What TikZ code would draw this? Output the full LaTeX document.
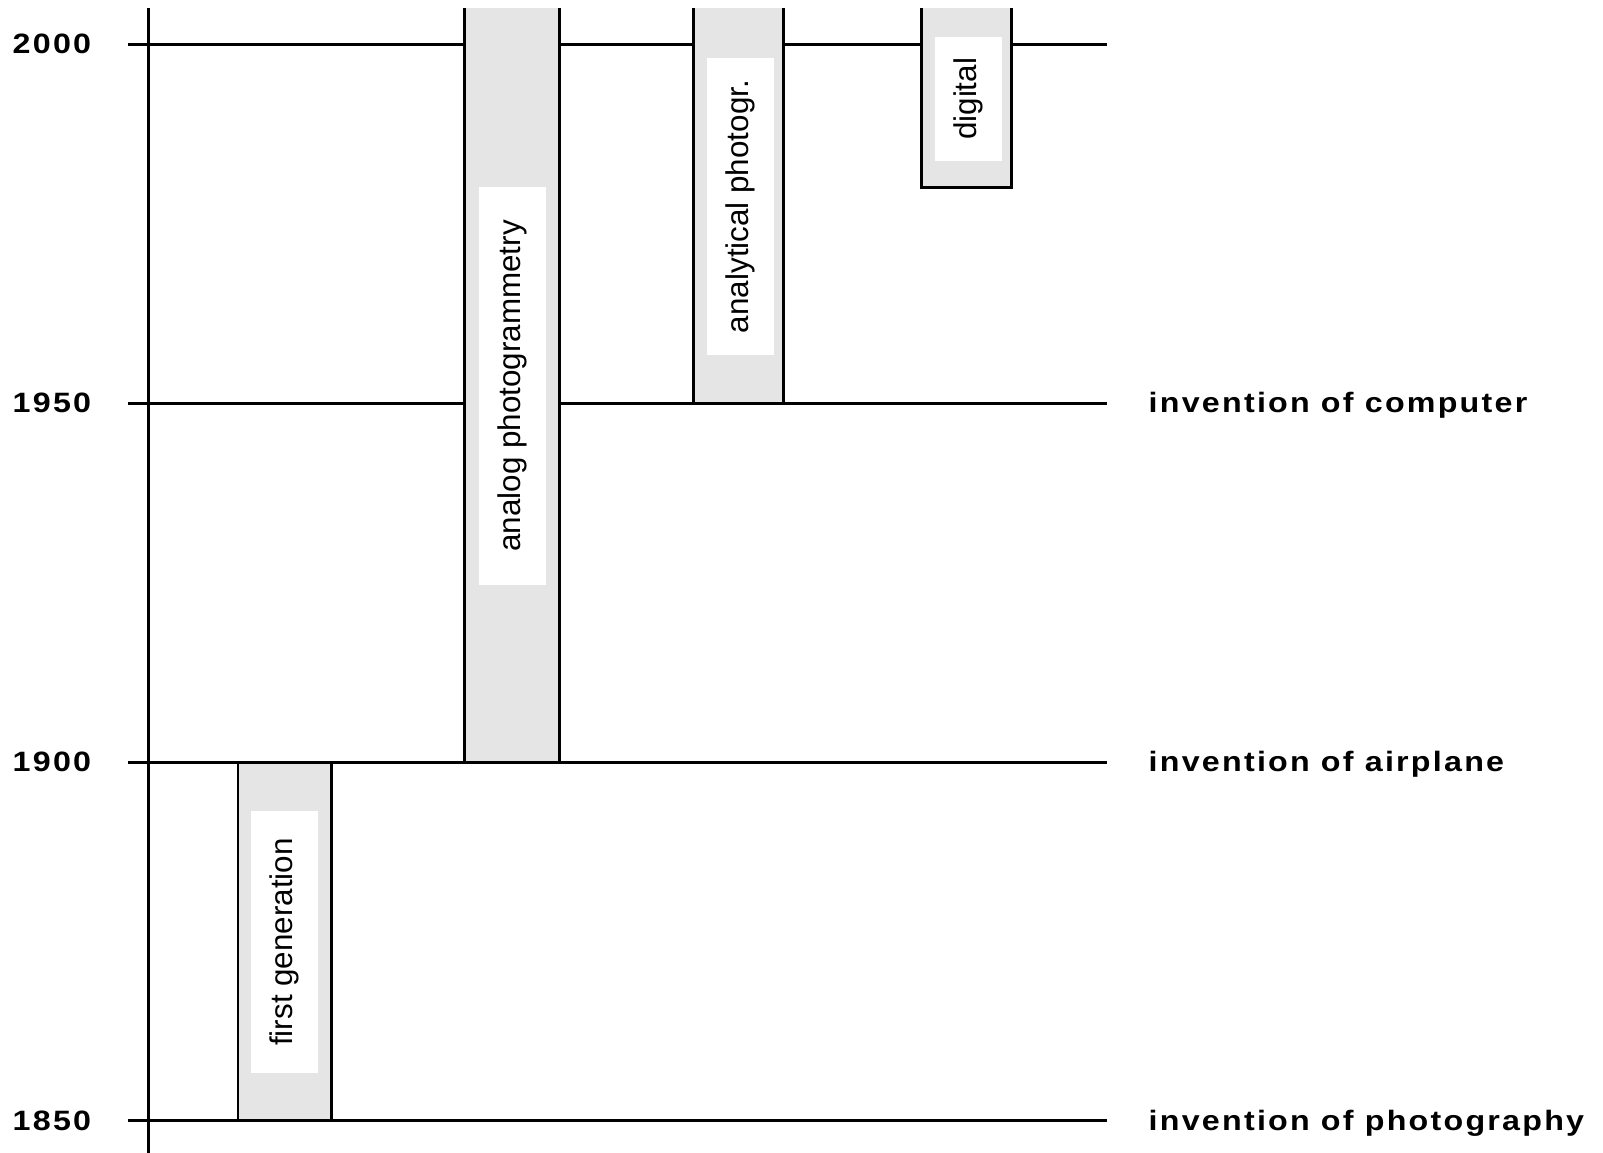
\documentclass[tikz,border=0pt]{standalone}
\usepackage{fontspec}
\setmainfont{Liberation Sans}
\newfontfamily\spacedfont[LetterSpace=8, FakeStretch=1.15]{Liberation Sans}
\usepackage{xcolor}
\usepackage{tikz}
\usetikzlibrary{positioning, calc}

\definecolor{barfill}{RGB}{229,229,229}

\begin{document}
\begin{tikzpicture}[
        y=0.07178cm,
        yearline/.style={line width=0.85pt},
        barline/.style={line width=0.85pt},
        yearlabel/.style={anchor=west, inner sep=0pt, font=\spacedfont\bfseries\fontsize{7.97}{9}\selectfont},
        eventlabel/.style={anchor=mid west, inner sep=0pt, font=\spacedfont\bfseries\fontsize{7.97}{9}\selectfont},
        periodlabel/.style={rotate=90, fill=white, minimum height=0.67cm, inner sep=0pt, font=\fontsize{8.93}{10}\selectfont}
    ]

    \useasboundingbox (0,-4.458) rectangle (16.03,156.17);

    % ============ YEAR LINES ============
    \foreach \yr/\lbl in {0/1850, 50/1900, 100/1950, 150/2000} {
        \draw[yearline] (1.28,\yr) -- (11.07,\yr);
        \node[yearlabel] (year\lbl) at (0.12,\yr) {\lbl};
    }

    % time axis
    \draw[yearline] (1.483,155.06) -- (1.483,-4.458);

    % ============ EVENTS ============
    \node[eventlabel] (photography) at (11.48,0) {invention of photography};
    \node[eventlabel] (airplane) at (11.48,50) {invention of airplane};
    \node[eventlabel] (computer) at (11.48,100) {invention of computer};

    % ============ PERIOD BARS ============
    % first generation
    \fill[barfill] (2.38,0) rectangle (3.313,50);
    \draw[barline] (2.38,0) rectangle (3.313,50);
    % analog
    \fill[barfill] (4.64,50) rectangle (5.594,155.06);
    \draw[barline] (4.64,155.06) |- (5.594,50) -- (5.594,155.06);
    % analytical
    \fill[barfill] (6.937,100) rectangle (7.837,155.06);
    \draw[barline] (6.937,155.06) |- (7.837,100) -- (7.837,155.06);
    % digital
    \fill[barfill] (9.214,130) rectangle (10.118,155.06);
    \draw[barline] (9.214,155.06) |- (10.118,130) -- (10.118,155.06);

    % ============ PERIOD LABELS ============
    \node[periodlabel, minimum width=2.62cm] (firstgen) at (2.845,24.94) {first generation};
    \node[periodlabel, minimum width=3.98cm] (analog) at (5.125,102.4) {analog photogrammetry};
    \node[periodlabel, minimum width=2.97cm] (analytical) at (7.405,127.4) {analytical photogr.};
    \node[periodlabel, minimum width=1.24cm] (digital) at (9.685,142.4) {digital};

\end{tikzpicture}
\end{document}
